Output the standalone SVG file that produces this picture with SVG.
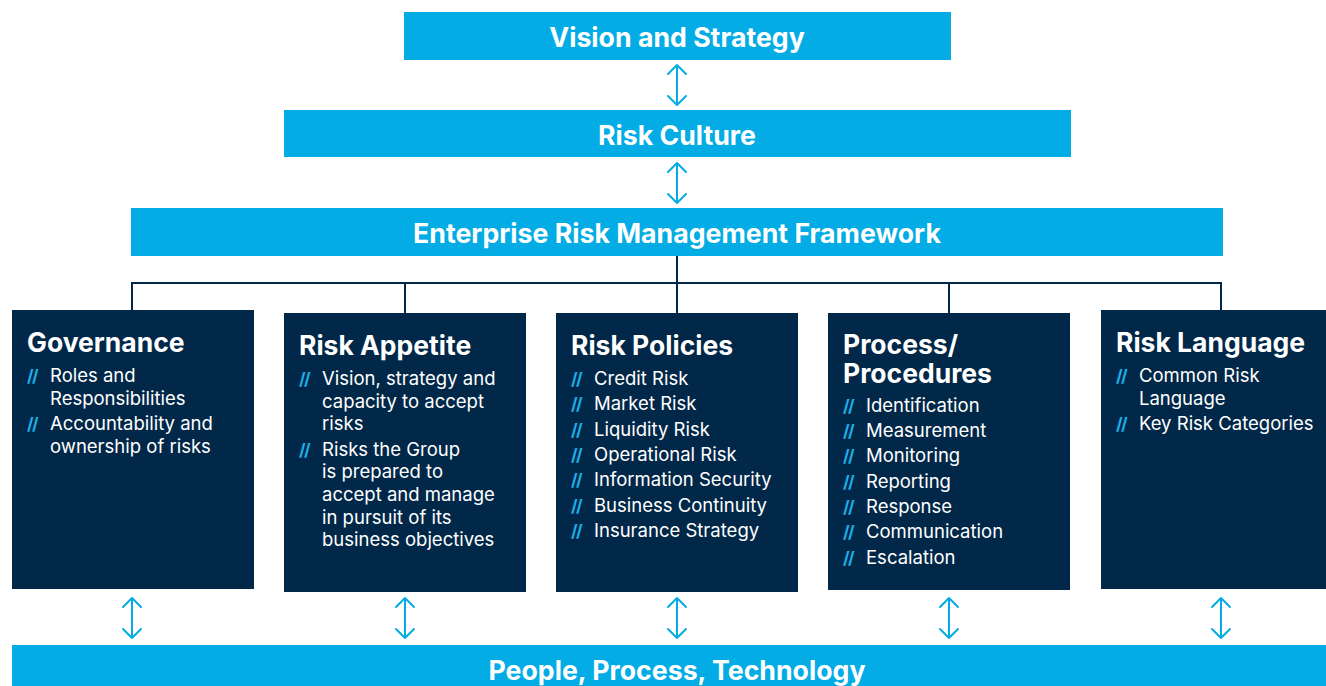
<svg xmlns="http://www.w3.org/2000/svg" width="1326" height="686" viewBox="0 0 1326 686">
  <style>
    .bar { fill: #03ACE5; }
    .box { fill: #012848; }
    .bar-label { font-family: Inter, "Liberation Sans", sans-serif; font-weight: 700; font-size: 26.7px; fill: #ffffff; text-anchor: middle; }
    .title { font-family: Inter, "Liberation Sans", sans-serif; font-weight: 700; font-size: 26.5px; fill: #ffffff; }
    .item { font-family: Inter, "Liberation Sans", sans-serif; font-size: 18.5px; fill: #ffffff; }
    .mark { font-family: Inter, "Liberation Sans", sans-serif; font-weight: 700; font-size: 17px; fill: #1BB0E8; letter-spacing: -1.5px; }
    .tree { fill: none; stroke: #012848; stroke-width: 2; }
    .dbl { fill: none; stroke: #03ACE5; stroke-width: 2; stroke-linecap: round; stroke-linejoin: round; }
  </style>
  <defs>
    <!-- open double-headed arrow, 40px tall, centred on its origin -->
    <g id="dblArrow">
      <path class="dbl" d="M0,-20 V20 M-9,-11 L0,-20 L9,-11 M-9,11 L0,20 L9,11"/>
    </g>
  </defs>

  <rect width="1326" height="686" fill="#ffffff"/>

  <g id="vision">
    <rect class="bar" x="404" y="12" width="547" height="48"/>
    <text class="bar-label" x="677" y="46.5">Vision and Strategy</text>
  </g>

  <g id="culture">
    <rect class="bar" x="284" y="110" width="787" height="47"/>
    <text class="bar-label" x="677" y="144.5">Risk Culture</text>
  </g>

  <g id="erm">
    <rect class="bar" x="131" y="208" width="1092" height="48"/>
    <text class="bar-label" x="677" y="242.5">Enterprise Risk Management Framework</text>
  </g>

  <g id="connectors">
    <use href="#dblArrow" x="677" y="85"/>
    <use href="#dblArrow" x="677" y="183"/>
    <path class="tree" d="M677,256 V283 M132,283 H1222 M132,282 V311 M405,282 V314 M677,283 V314 M949,282 V314 M1221,282 V311"/>
    <use href="#dblArrow" x="132" y="618"/>
    <use href="#dblArrow" x="405" y="618"/>
    <use href="#dblArrow" x="677" y="618"/>
    <use href="#dblArrow" x="949" y="618"/>
    <use href="#dblArrow" x="1221" y="618"/>
  </g>

  <g id="governance">
    <rect class="box" x="12" y="310" width="242" height="279"/>
    <text class="title" x="27" y="352">Governance</text>
    <text class="mark" x="27" y="382">//</text>
    <text class="item" x="50" y="382">Roles and</text>
    <text class="item" x="50" y="405">Responsibilities</text>
    <text class="mark" x="27" y="430">//</text>
    <text class="item" x="50" y="430">Accountability and</text>
    <text class="item" x="50" y="453">ownership of risks</text>
  </g>

  <g id="appetite">
    <rect class="box" x="284" y="313" width="242" height="279"/>
    <text class="title" x="299" y="355">Risk Appetite</text>
    <text class="mark" x="299" y="385">//</text>
    <text class="item" x="322" y="385">Vision, strategy and</text>
    <text class="item" x="322" y="408">capacity to accept</text>
    <text class="item" x="322" y="430">risks</text>
    <text class="mark" x="299" y="456">//</text>
    <text class="item" x="322" y="456">Risks the Group</text>
    <text class="item" x="322" y="478">is prepared to</text>
    <text class="item" x="322" y="501">accept and manage</text>
    <text class="item" x="322" y="524">in pursuit of its</text>
    <text class="item" x="322" y="546">business objectives</text>
  </g>

  <g id="policies">
    <rect class="box" x="556" y="313" width="242" height="279"/>
    <text class="title" x="571" y="355">Risk Policies</text>
    <text class="mark" x="571" y="385">//</text>
    <text class="item" x="594" y="385">Credit Risk</text>
    <text class="mark" x="571" y="410">//</text>
    <text class="item" x="594" y="410">Market Risk</text>
    <text class="mark" x="571" y="436">//</text>
    <text class="item" x="594" y="436">Liquidity Risk</text>
    <text class="mark" x="571" y="461">//</text>
    <text class="item" x="594" y="461">Operational Risk</text>
    <text class="mark" x="571" y="486">//</text>
    <text class="item" x="594" y="486">Information Security</text>
    <text class="mark" x="571" y="512">//</text>
    <text class="item" x="594" y="512">Business Continuity</text>
    <text class="mark" x="571" y="537">//</text>
    <text class="item" x="594" y="537">Insurance Strategy</text>
  </g>

  <g id="procedures">
    <rect class="box" x="828" y="313" width="242" height="277"/>
    <text class="title" x="843" y="353.5">Process/</text>
    <text class="title" x="843" y="382.5">Procedures</text>
    <text class="mark" x="843" y="412">//</text>
    <text class="item" x="866" y="412">Identification</text>
    <text class="mark" x="843" y="437">//</text>
    <text class="item" x="866" y="437">Measurement</text>
    <text class="mark" x="843" y="462">//</text>
    <text class="item" x="866" y="462">Monitoring</text>
    <text class="mark" x="843" y="488">//</text>
    <text class="item" x="866" y="488">Reporting</text>
    <text class="mark" x="843" y="513">//</text>
    <text class="item" x="866" y="513">Response</text>
    <text class="mark" x="843" y="538">//</text>
    <text class="item" x="866" y="538">Communication</text>
    <text class="mark" x="843" y="564">//</text>
    <text class="item" x="866" y="564">Escalation</text>
  </g>

  <g id="language">
    <rect class="box" x="1101" y="310" width="225" height="279"/>
    <text class="title" x="1116" y="352">Risk Language</text>
    <text class="mark" x="1116" y="382">//</text>
    <text class="item" x="1139" y="382">Common Risk</text>
    <text class="item" x="1139" y="405">Language</text>
    <text class="mark" x="1116" y="430">//</text>
    <text class="item" x="1139" y="430">Key Risk Categories</text>
  </g>

  <g id="foundation">
    <rect class="bar" x="12" y="645" width="1314" height="41"/>
    <text class="bar-label" x="677" y="680">People, Process, Technology</text>
  </g>
</svg>
